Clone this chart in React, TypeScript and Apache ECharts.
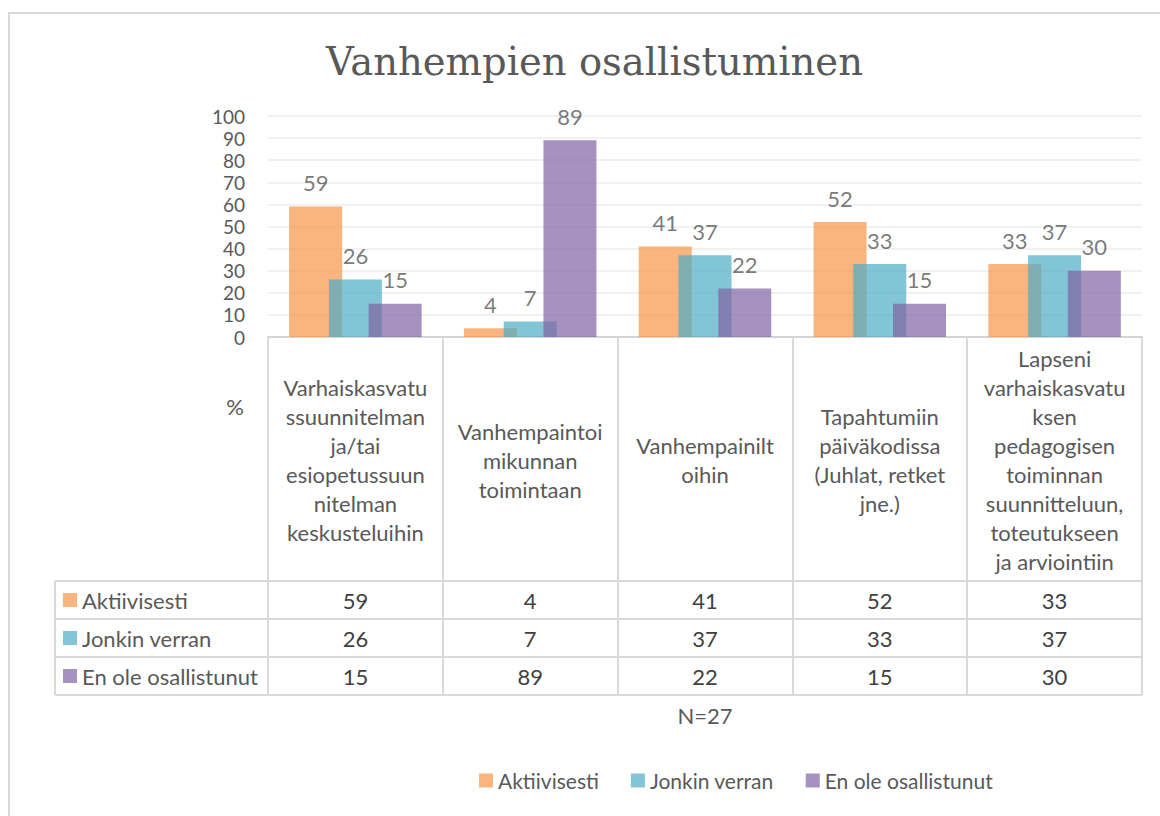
import React, { useEffect, useRef } from "react";
import * as echarts from "echarts";

const categories = [
  "Varhaiskasvatu\nssuunnitelman\nja/tai\nesiopetussuun\nnitelman\nkeskusteluihin",
  "Vanhempaintoi\nmikunnan\ntoimintaan",
  "Vanhempainilt\noihin",
  "Tapahtumiin\npäiväkodissa\n(Juhlat, retket\njne.)",
  "Lapseni\nvarhaiskasvatu\nksen\npedagogisen\ntoiminnan\nsuunnitteluun,\ntoteutukseen\nja arviointiin",
];
const seriesNames = ["Aktiivisesti", "Jonkin verran", "En ole osallistunut"];
const aktiivisesti = [59, 4, 41, 52, 33];
const jonkinVerran = [26, 7, 37, 33, 37];
const enOleOsallistunut = [15, 89, 22, 15, 30];
const yTicks = { min: 0, max: 100, interval: 10 };
const colors = ["#F79646", "#4BACC6", "#8064A2"];
const titleText = "Vanhempien osallistuminen";
const yName = "%";
const xName = "N=27";

const SANS = "Lato, 'Noto Sans', sans-serif";
const GRID = { left: 268, right: 18, top: 116, bottom: 479 };
const Y0 = 816 - GRID.bottom;
const TABLE_ROWS = [581, 619, 657, 695];
const ROW_CENTERS = [600, 638, 676];
const TABLE_LEFT = 55;
const TABLE_RIGHT = 1160 - GRID.right;

export default function App() {
  const ref = useRef<HTMLDivElement>(null);
  useEffect(() => {
    if (!ref.current) return;
    const chart = echarts.init(ref.current, undefined, { renderer: "svg" });
    const allSeries = [aktiivisesti, jonkinVerran, enOleOsallistunut];
    const lineStyle = { stroke: "#D9D9D9", lineWidth: 2 };

    const valueAxes = allSeries.map((vals, i) => ({
      type: "category",
      gridIndex: 0,
      position: "bottom",
      data: vals.map(String),
      axisLine: { show: false },
      axisTick: { show: false },
      splitLine: { show: false },
      axisLabel: {
        interval: 0,
        margin: ROW_CENTERS[i] - Y0,
        verticalAlign: "middle",
        fontFamily: SANS,
        fontSize: 22,
        color: "#404040",
      },
    }));

    const rowKeys = seriesNames.flatMap((name, i) => [
      {
        type: "rect",
        shape: { x: 63, y: ROW_CENTERS[i] - 7, width: 14, height: 14 },
        style: { fill: colors[i], opacity: 0.7 },
        silent: true,
      },
      {
        type: "text",
        x: 82,
        y: ROW_CENTERS[i],
        style: {
          text: name,
          fontFamily: SANS,
          fontSize: 22,
          fill: "#595959",
          align: "left",
          verticalAlign: "middle",
        },
        silent: true,
      },
    ]);

    chart.setOption({
      animation: false,
      backgroundColor: "#FFFFFF",
      title: {
        text: titleText,
        left: 321,
        top: 37,
        textStyle: {
          fontFamily: "'DejaVu Serif', serif",
          fontSize: 38.5,
          fontWeight: "normal",
          color: "#595959",
        },
      },
      legend: {
        data: seriesNames,
        orient: "horizontal",
        left: 474,
        top: 765,
        itemWidth: 14,
        itemHeight: 14,
        itemGap: 32,
        icon: "rect",
        selectedMode: false,
        textStyle: { fontFamily: SANS, fontSize: 21, color: "#595959" },
      },
      grid: { ...GRID, containLabel: false, outerBoundsMode: "none" },
      xAxis: [
        {
          type: "category",
          data: categories,
          position: "bottom",
          name: xName,
          nameLocation: "middle",
          nameGap: 715 - Y0,
          nameTextStyle: { fontFamily: SANS, fontSize: 22, color: "#595959", verticalAlign: "middle" },
          axisLine: { show: true, lineStyle: { color: "#D4D4D4", width: 2 } },
          axisTick: {
            show: true,
            interval: 0,
            length: TABLE_ROWS[3] - Y0,
            lineStyle: { color: "#D9D9D9", width: 2 },
          },
          axisLabel: {
            interval: 0,
            margin: 460 - Y0,
            verticalAlign: "middle",
            align: "center",
            lineHeight: 29,
            fontFamily: SANS,
            fontSize: 22,
            color: "#595959",
          },
          splitLine: { show: false },
        },
        ...valueAxes,
      ],
      yAxis: {
        type: "value",
        min: yTicks.min,
        max: yTicks.max,
        interval: yTicks.interval,
        axisLine: { show: false },
        axisTick: { show: false },
        axisLabel: { margin: 23, fontFamily: SANS, fontSize: 19, lineHeight: 19, color: "#595959" },
        splitLine: { lineStyle: { color: "#EDEDED", width: 1.5 } },
      },
      series: allSeries.map((vals, i) => ({
        name: seriesNames[i],
        type: "bar",
        xAxisIndex: 0,
        data: vals,
        barWidth: 53,
        barGap: "-25%",
        itemStyle: { color: colors[i], opacity: 0.7 },
        label: {
          show: true,
          position: "top",
          distance: 13,
          fontFamily: SANS,
          fontSize: 22,
          color: "#404040",
        },
      })),
      graphic: [
        {
          type: "rect",
          shape: { x: 9, y: 13, width: 1300, height: 1000 },
          style: { fill: "none", stroke: "#D9D9D9", lineWidth: 2 },
          silent: true,
        },
        ...TABLE_ROWS.map((y) => ({
          type: "line",
          shape: { x1: TABLE_LEFT, y1: y, x2: TABLE_RIGHT, y2: y },
          style: lineStyle,
          silent: true,
        })),
        {
          type: "line",
          shape: { x1: TABLE_LEFT, y1: TABLE_ROWS[0], x2: TABLE_LEFT, y2: TABLE_ROWS[3] },
          style: lineStyle,
          silent: true,
        },
        ...rowKeys,
        {
          type: "text",
          x: 235,
          y: 406,
          style: {
            text: yName,
            fontFamily: SANS,
            fontSize: 22,
            fill: "#595959",
            align: "center",
            verticalAlign: "middle",
          },
          silent: true,
        },
      ],
    });
    return () => chart.dispose();
  }, []);
  return (
    <div
      ref={ref}
      style={{ position: "fixed", left: 0, top: 0, width: 1160, height: 816, background: "#fff" }}
    />
  );
}
